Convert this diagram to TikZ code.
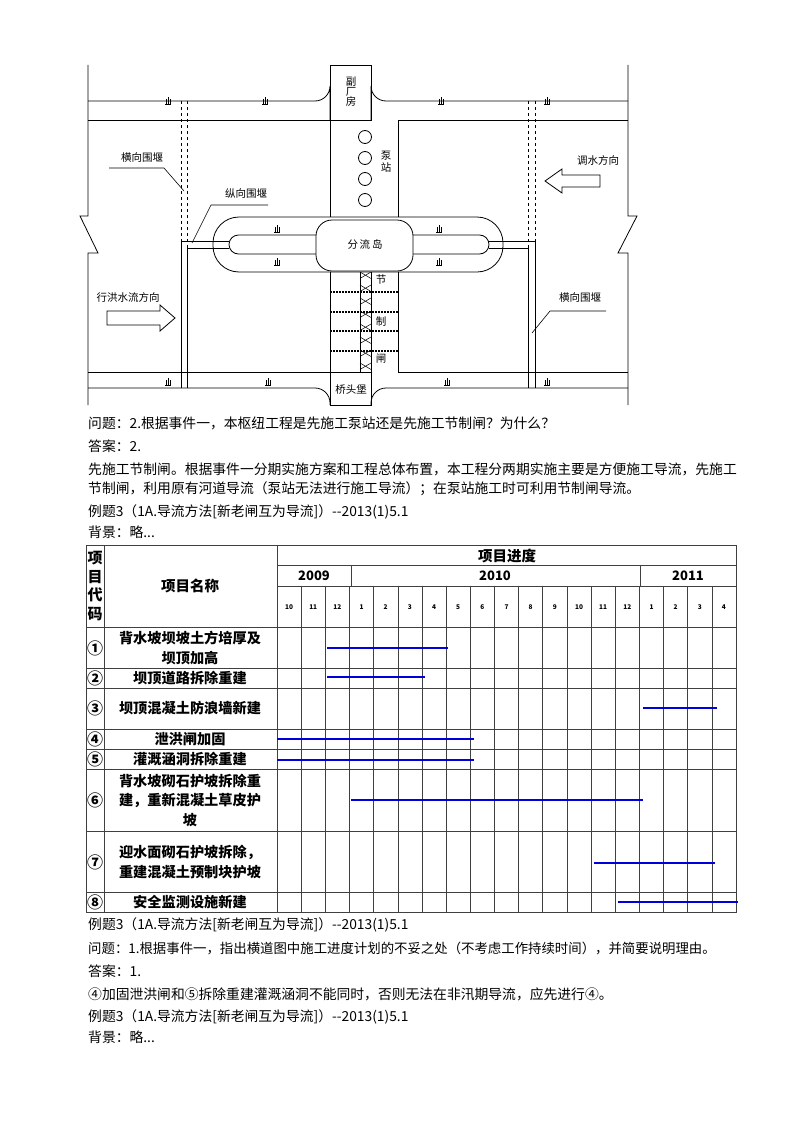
\documentclass[tikz,border=0pt]{standalone}
\usepackage{fontspec}
\setmainfont{Noto Sans CJK SC}
\begin{document}
\begin{tikzpicture}[x=1pt,y=-1pt,
  ln/.style={line width=0.8pt},
  lbl/.style={font=\fontsize{10.5}{11}\selectfont, inner sep=0},
  para/.style={anchor=west,inner sep=0,font=\fontsize{13.8}{15}\selectfont},
  grid/.style={line width=0.6pt,draw=black!75},
  bar/.style={line width=1.3pt,draw=blue!85!black},
  hd/.style={font=\bfseries\fontsize{14.5}{16}\selectfont,inner sep=0},
  yr/.style={font=\bfseries\fontsize{13}{14}\selectfont,inner sep=0},
  mon/.style={font=\bfseries\fontsize{6.5}{7}\selectfont,inner sep=0},
  nm/.style={font=\bfseries\fontsize{14.2}{19.5}\selectfont,inner sep=0,align=center}]
\useasboundingbox (0,0) rectangle (800,1132);
% ---------- top plan ----------
\begin{scope}[ln]
\draw (88,65) -- (88,216) -- (80,216) -- (98,253) -- (88,253) -- (88,405);
\draw (628,65) -- (628,216) -- (637,216) -- (618,253) -- (628,253) -- (628,405);
\draw (88,101) -- (315,101) arc[start angle=90,end angle=0,radius=15] -- (330,120);
\draw (628,101) -- (386,101) arc[start angle=90,end angle=180,radius=15] -- (371,120);
\draw (88,120) -- (330,120); \draw (398,120) -- (628,120);
\draw (330,65) rectangle (371,120);
\draw (88,372) -- (330,372); \draw (398,372) -- (628,372);
\draw (88,388) -- (315,388) arc[start angle=-90,end angle=0,radius=15] -- (330,405);
\draw (628,388) -- (386,388) arc[start angle=-90,end angle=-180,radius=15] -- (371,405);
\draw (330,372) rectangle (371,405);
\draw (330,120) -- (330,217); \draw (398,120) -- (398,217);
\foreach \yy in {137,158,179,200} \draw (365,\yy) circle[radius=6.5];
\draw[rounded corners=26] (213,217) rectangle (503,272);
\draw[rounded corners=9.5, fill=white] (229,235) rectangle (489,254);
\draw[rounded corners=16, fill=white] (316,220) rectangle (413,271);
\draw (330,272) -- (330,372); \draw (398,272) -- (398,372);
\fill[white] (330.5,272.5) rectangle (397.5,371.5);
\draw[line width=0.5pt] (360,272) -- (360,372) (371,272) -- (371,372);
\foreach \yy in {272,285,...,372} {\draw[line width=0.5pt] (360,\yy) -- (371,\yy+6.5) (371,\yy) -- (360,\yy+6.5);}
\foreach \yy in {292,312,331,351} \draw[line width=2pt,dash pattern=on 2pt off 1pt] (330,\yy) -- (398,\yy);
\draw[dashed] (181,101) -- (181,241) (187,101) -- (187,248);
\draw[dashed] (528,101) -- (528,248) (535,101) -- (535,241);
\draw (229,241) -- (181,241) -- (181,388); \draw (229,248) -- (187,248) -- (187,388);
\draw (489,241) -- (535,241) -- (535,388); \draw (489,248) -- (528,248) -- (528,388);
\foreach \xx/\yy in {168/104,265/104,441/104,547/104,277/232,439/232,277/265,439/265,168/385,268/385,447/385,547/385}
  {\draw[line width=0.6pt] (\xx-3,\yy) -- (\xx+3,\yy) (\xx-2,\yy-5) -- (\xx-2,\yy) (\xx,\yy-7) -- (\xx,\yy) (\xx+2,\yy-5) -- (\xx+2,\yy);}
\draw[line width=0.6pt] (109,168) -- (164,168) -- (184,191);
\draw[line width=0.6pt] (268,205) -- (211,205) -- (192,243);
\draw[line width=0.6pt] (606,311) -- (550,311) -- (532,333);
\draw (107,311) -- (160,311) -- (160,305) -- (175,318) -- (160,331) -- (160,325) -- (107,325) -- cycle;
\draw (600,175) -- (562,175) -- (562,169) -- (545,181) -- (562,193) -- (562,187) -- (600,187) -- cycle;
\end{scope}
\node[lbl,align=center] (fcf) at (351,92) {副\\[-1pt]厂\\[-1pt]房};
\node[lbl,align=center] (bz) at (386,162) {泵\\[1pt]站};
\node[lbl] (fld) at (365,245) {分\,流\,岛};
\node[lbl] (j1) at (381,279) {节};
\node[lbl] (j2) at (381,322) {制};
\node[lbl] (j3) at (381,359) {闸};
\node[lbl] (qtb) at (351,390) {桥头堡};
\node[lbl] (hx1) at (142,158) {横向围堰};
\node[lbl] (zx) at (246,193) {纵向围堰};
\node[lbl] (hx2) at (580,298) {横向围堰};
\node[lbl] (ds) at (598,160) {调水方向};
\node[lbl] (xh) at (128,297) {行洪水流方向};
% ---------- paragraphs ----------
\node[para] (p1) at (88,423) {问题：2.根据事件一，本枢纽工程是先施工泵站还是先施工节制闸？为什么？};
\node[para] (p2) at (88,446) {答案：2.};
\node[para] (p3) at (88,469) {先施工节制闸。根据事件一分期实施方案和工程总体布置，本工程分两期实施主要是方便施工导流，先施工};
\node[para] (p4) at (88,489) {节制闸，利用原有河道导流（泵站无法进行施工导流）；在泵站施工时可利用节制闸导流。};
\node[para] (p5) at (88,512) {例题3（1A.导流方法[新老闸互为导流]）-{}-2013(1)5.1};
\node[para] (p6) at (88,532) {背景：略...};
% ---------- table ----------
\foreach \yy in {627,668,688,729,749,769,831,892} \draw[grid] (86,\yy) -- (736,\yy);
\draw[grid] (277,565) -- (736,565);
\draw[grid] (277,586) -- (736,586);
\foreach \i in {1,...,18} \draw[grid] ({277+\i*24.16},586) -- ({277+\i*24.16},912);
\draw[grid] (351,565) -- (351,586); \draw[grid] (640,565) -- (640,586);
\draw[grid] (104,545) -- (104,912); \draw[grid] (277,545) -- (277,912);
\draw[line width=1pt,draw=black!75] (86,545) rectangle (736,912);
\node[hd] (jd) at (507,556) {项目进度};
\node[yr] (y9) at (314,576) {2009};
\node[yr] (y10) at (495,576) {2010};
\node[yr] (y11) at (688,576) {2011};
\foreach \m [count=\i from 0] in {10,11,12,1,2,3,4,5,6,7,8,9,10,11,12,1,2,3,4}
  \node[mon] at ({277+(\i+0.5)*24.16},607) {\m};
\node[hd,align=center,font=\bfseries\fontsize{15}{18.5}\selectfont] (dm) at (95,586) {项\\目\\代\\码};
\node[hd] (mc) at (190,586) {项目名称};
\foreach \c/\yy in {①/648,②/678,③/708,④/739,⑤/759,⑥/800,⑦/862,⑧/902}
  \node[inner sep=0,font=\bfseries\fontsize{16}{16}\selectfont] at (95,\yy) {\c};
\node[nm] (r1) at (190,648) {背水坡坝坡土方培厚及\\坝顶加高};
\node[nm] (r2) at (190,678) {坝顶道路拆除重建};
\node[nm] (r3) at (190,708) {坝顶混凝土防浪墙新建};
\node[nm] (r4) at (190,739) {泄洪闸加固};
\node[nm] (r5) at (190,759) {灌溉涵洞拆除重建};
\node[nm] (r6) at (190,800) {背水坡砌石护坡拆除重\\建，重新混凝土草皮护\\坡};
\node[nm] (r7) at (190,862) {迎水面砌石护坡拆除，\\重建混凝土预制块护坡};
\node[nm] (r8) at (190,902) {安全监测设施新建};
\draw[bar] (327,648) -- (448,648);
\draw[bar] (327,677) -- (425,677);
\draw[bar] (643,708) -- (717,708);
\draw[bar] (277,739) -- (474,739);
\draw[bar] (277,760) -- (474,760);
\draw[bar] (351,800) -- (643,800);
\draw[bar] (594,863) -- (715,863);
\draw[bar] (618,902) -- (738,902);
% ---------- paragraphs after ----------
\node[para] (q1) at (88,925) {例题3（1A.导流方法[新老闸互为导流]）-{}-2013(1)5.1};
\node[para,font=\fontsize{13.4}{15}\selectfont] (q2) at (88,948) {问题：1.根据事件一，指出横道图中施工进度计划的不妥之处（不考虑工作持续时间），并简要说明理由。};
\node[para] (q3) at (88,971) {答案：1.};
\node[para] (q4) at (88,994) {④加固泄洪闸和⑤拆除重建灌溉涵洞不能同时，否则无法在非汛期导流，应先进行④。};
\node[para] (q5) at (88,1017) {例题3（1A.导流方法[新老闸互为导流]）-{}-2013(1)5.1};
\node[para] (q6) at (88,1037) {背景：略...};
\end{tikzpicture}
\end{document}
